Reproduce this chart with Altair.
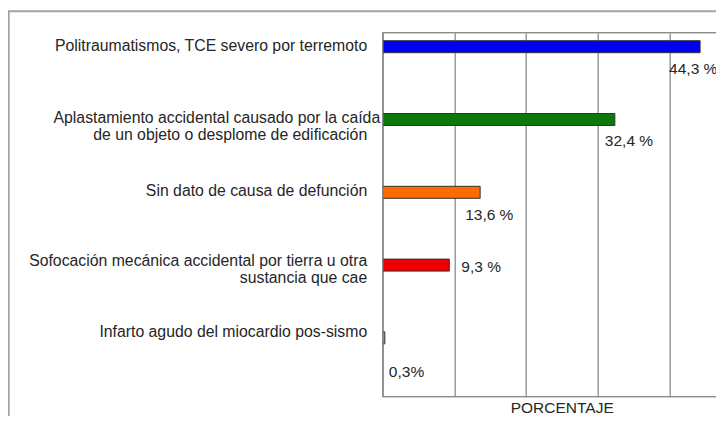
import altair as alt
import pandas as pd

categories = [
    "Politraumatismos, TCE severo por terremoto",
    "Aplastamiento accidental causado por la caída de un objeto o desplome de edificación",
    "Sin dato de causa de defunción",
    "Sofocación mecánica accidental por tierra u otra sustancia que cae",
    "Infarto agudo del miocardio pos-sismo",
]
category_lines = [
    ["Politraumatismos, TCE severo por terremoto"],
    ["Aplastamiento accidental causado por la caída", "de un objeto o desplome de edificación"],
    ["Sin dato de causa de defunción"],
    ["Sofocación mecánica accidental por tierra u otra", "sustancia que cae"],
    ["Infarto agudo del miocardio pos-sismo"],
]
values = [44.3, 32.4, 13.6, 9.3, 0.3]
value_labels = ["44,3 %", "32,4 %", "13,6 %", "9,3 %", "0,3%"]
bar_colors = ["#0000f0", "#0a780a", "#ff6a00", "#ee0000", "#9a9a9a"]
grid_ticks = [0, 10, 20, 30, 40]
axis_title = "PORCENTAJE"

df = pd.DataFrame({
    "category": categories,
    "value": values,
    "vlabel": value_labels,
})

FONT = "Liberation Sans"
FS = 15.5
FS_CAT = 15.8
TXT = "#262626"
GRID = "#8c8c8c"
PX_PER_UNIT = 7.165
PLOT_W = 333.3
PLOT_H = 364
LINE_H = 17

xs = alt.Scale(domain=[0, PLOT_W / PX_PER_UNIT], nice=False, zero=True)
ys = alt.Scale(domain=categories, paddingInner=0, paddingOuter=0)

one = df.head(1)

# outer picture frame (open to the right and bottom)
frame = alt.Chart(one).mark_rect(
    filled=False, stroke="#a3a3a3", strokeWidth=2, clip=False
).encode(
    x=alt.value(-374), y=alt.value(-21.5), x2=alt.value(420), y2=alt.value(430)
)

bars = alt.Chart(df).mark_bar(
    height=12, yOffset=-22.4, stroke="#333333", strokeWidth=1
).encode(
    x=alt.X("value:Q", scale=xs, axis=alt.Axis(
        values=grid_ticks, grid=True, gridColor=GRID, gridWidth=1.3,
        labels=False, ticks=False, domain=False,
        title=axis_title, titleX=179, titleY=15.5, titleAlign="center",
        titleBaseline="alphabetic", titleFont=FONT, titleFontSize=FS,
        titleFontWeight="normal", titleColor=TXT,
    )),
    y=alt.Y("category:N", scale=ys, axis=None),
    color=alt.Color("category:N", scale=alt.Scale(domain=categories, range=bar_colors), legend=None),
)

# plot-area border (its right side lies past the picture edge)
border = alt.Chart(one).mark_rect(
    filled=False, stroke=GRID, strokeWidth=1.3, clip=False
).encode(
    x=alt.value(0), y=alt.value(0), x2=alt.value(420), y2=alt.value(PLOT_H)
)

cat_dy = [-18.4, -19.0, -19.0, -22.0, -23.4]
line1_dx = [0, 13, 0, 0, 0]
val_dx = [-31, -10, -15, 12, 4]
val_dy = [-0.4, -1.4, 0.1, -20.4, 11.6]

layers = [frame, bars, border]
for i in range(len(categories)):
    row = df.iloc[[i]]
    for j, line in enumerate(category_lines[i]):
        layers.append(
            alt.Chart(row).mark_text(
                align="right", baseline="alphabetic",
                dx=line1_dx[i] if j == 0 else 0,
                dy=cat_dy[i] + j * LINE_H,
                font=FONT, fontSize=FS_CAT, color=TXT,
            ).encode(
                x=alt.value(-15.5),
                y=alt.Y("category:N", scale=ys, axis=None),
                text=alt.value(line),
            )
        )
    layers.append(
        alt.Chart(row).mark_text(
            align="left", baseline="middle", dx=val_dx[i], dy=val_dy[i],
            font=FONT, fontSize=FS, color=TXT,
        ).encode(
            x=alt.X("value:Q", scale=xs),
            y=alt.Y("category:N", scale=ys, axis=None),
            text="vlabel:N",
        )
    )

chart = alt.layer(*layers).properties(
    width=PLOT_W, height=PLOT_H, autosize="none",
    padding={"left": 374.7, "top": 24.7, "right": 0, "bottom": 19.3},
).configure_view(stroke=None).configure(background="white")

chart.save("out.html", embed_options={"renderer": "svg", "actions": False})
